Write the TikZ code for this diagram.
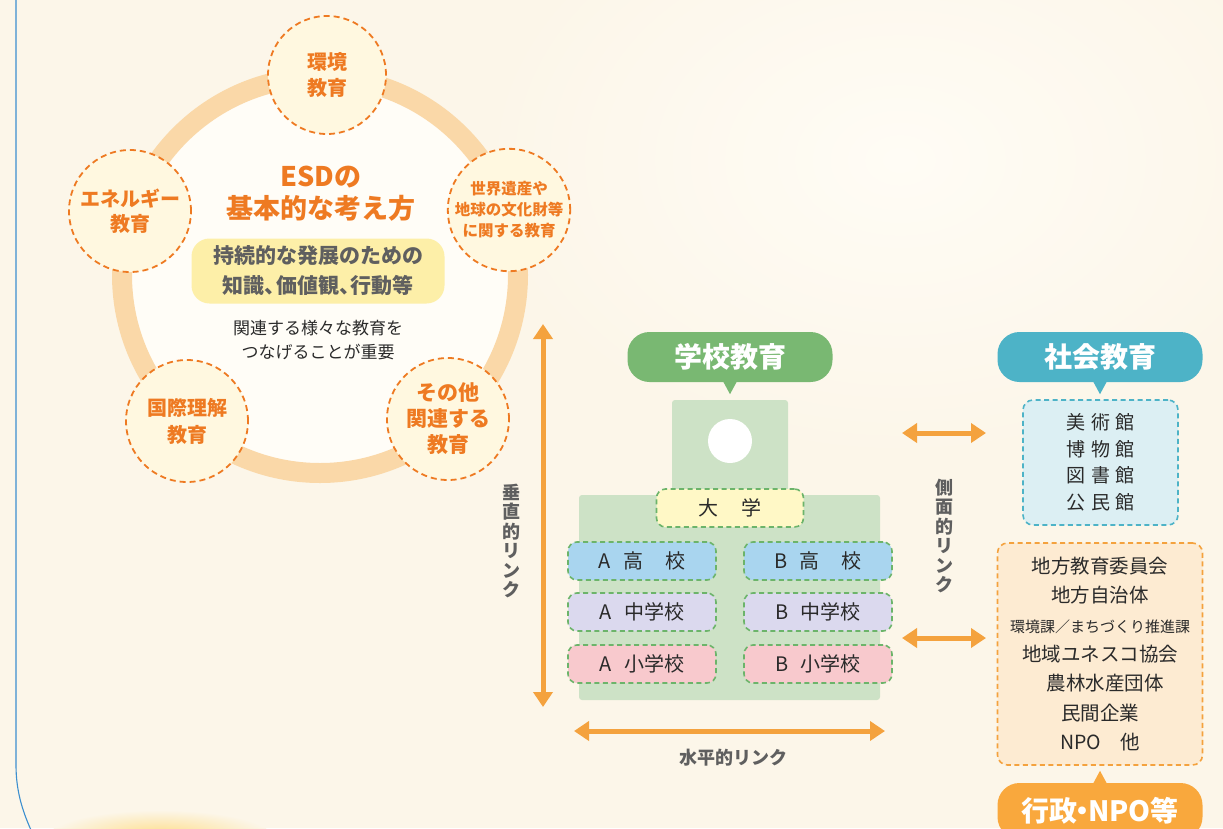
\documentclass[tikz,border=0pt]{standalone}
\usepackage{fontspec}
\setmainfont{Noto Sans CJK JP}
\usetikzlibrary{arrows.meta}
\definecolor{bg}{HTML}{FCF6E9}
\definecolor{innerc}{HTML}{FFFDF7}
\definecolor{ringc}{HTML}{FAD8A8}
\definecolor{orangeT}{HTML}{EE7A22}
\definecolor{circFill}{HTML}{FFF8E0}
\definecolor{arrowO}{HTML}{F4A23E}
\definecolor{greenC}{HTML}{79B872}
\definecolor{bldg}{HTML}{CDE2C6}
\definecolor{dashG}{HTML}{6CB46A}
\definecolor{univ}{HTML}{FFF8C6}
\definecolor{hs}{HTML}{A9D5EF}
\definecolor{jhs}{HTML}{DBD9EE}
\definecolor{es}{HTML}{F8C9CD}
\definecolor{tealC}{HTML}{4DB3C7}
\definecolor{museum}{HTML}{DCEFF3}
\definecolor{orgF}{HTML}{FDEBD2}
\definecolor{callO}{HTML}{F9A83D}
\definecolor{yel}{HTML}{FDEFA8}
\definecolor{grayT}{HTML}{5F5F5F}
\definecolor{darkT}{HTML}{2A2A2A}
\definecolor{blueL}{HTML}{3C8FCF}
\definecolor{glowc}{HTML}{FFFCF5}
\newcommand\fsz[2]{\fontsize{#1}{#2}\selectfont}
\tikzset{
  topic/.style={circle, minimum size=118pt, inner sep=0pt, draw=orangeT, line width=1.8pt,
    dash pattern=on 6pt off 4pt, fill=circFill, text=orangeT, align=center,
    font=\bfseries\fsz{20}{26}},
  bigarrow/.style={arrowO, line width=5pt,
    {Triangle[width=19pt,length=15pt]}-{Triangle[width=19pt,length=15pt]}},
  vlabel/.style={text=grayT, align=center, font=\bfseries\fsz{18}{19.5}},
  callout/.style={rectangle, rounded corners=22pt, minimum width=205pt, minimum height=50pt,
    text=white, font=\bfseries\fsz{28}{28}},
  sbox/.style={rectangle, rounded corners=9pt, draw=dashG, line width=1.6pt,
    dash pattern=on 5pt off 3.5pt, minimum width=148pt, minimum height=38pt,
    text=darkT, font=\fsz{20}{20}},
  infobox/.style={rectangle, rounded corners=10pt, line width=1.6pt,
    dash pattern=on 5pt off 3.5pt, text=darkT, align=center}
}
\begin{document}
\begin{tikzpicture}[x=1pt,y=-1pt]
\useasboundingbox (0,0) rectangle (1223,828);
\clip (0,0) rectangle (1223,828);
\fill[bg] (0,0) rectangle (1223,828);
% soft light glows
\shade[inner color=glowc, outer color=bg] (900,160) ellipse[x radius=420, y radius=300];
\shade[inner color=yellow!45!orange!40!bg, outer color=bg] (160,835) ellipse[x radius=110, y radius=25];
% left blue border line
\draw[blueL, line width=1.1pt] (16,-2) -- (16,765) .. controls (16,790) and (22,810) .. (31,830);

% ring
\fill[innerc] (320,275) circle[radius=192];
\draw[ringc, line width=20pt] (320,275) circle[radius=198];

% topic circles
\node[topic] (env) at (327,75) {環境\\教育};
\node[topic, minimum size=122pt, font=\bfseries\fsz{15.5}{21}] (heri) at (509,210) {世界遺産や\\地球の文化財等\\に関する教育};
\node[topic, minimum size=122pt, font=\bfseries\fsz{20}{25}] (ener) at (130,211) {エネルギー\\教育};
\node[topic, minimum size=122pt, font=\bfseries\fsz{20}{27}] (intl) at (187,421) {国際理解\\教育};
\node[topic, minimum size=122pt, font=\bfseries\fsz{21}{26}] (other) at (448,419) {その他\\関連する\\教育};

% center texts
\node[text=orangeT, align=center, font=\bfseries\fsz{27}{32}] (title) at (321,194) {ESDの\\基本的な考え方};
\node[rectangle, rounded corners=18pt, fill=yel, minimum width=253pt, minimum height=65pt,
  text=grayT, align=center, font=\bfseries\fsz{21}{30}] (core) at (318,271) {持続的な発展のための\\知識、{\hspace{-0.45em}}価値観、{\hspace{-0.45em}}行動等};
\node[text=darkT, align=center, font=\fsz{17}{24}] (sub) at (318,340) {関連する様々な教育を\\つなげることが重要};

% vertical link
\coordinate (vtop) at (543,324);
\coordinate (vbot) at (543,707);
\draw[bigarrow] (vtop) -- (vbot);
\node[vlabel] (vlab) at (511,541) {垂\\直\\的\\リ\\ン\\ク};

% school education callout
\node[callout, fill=greenC] (school) at (730,357) {学校教育};
\fill[greenC] ([xshift=-7pt,yshift=1pt]school.south) -- ([xshift=7pt,yshift=1pt]school.south) -- ([yshift=-12pt]school.south) -- cycle;

% building
\fill[bldg, rounded corners=3pt] (672,400) rectangle (788,505);
\fill[bldg, rounded corners=3pt] (579,495) rectangle (880,700);
\fill[white] (730,441) circle[radius=22];

\node[sbox, fill=univ, minimum width=147pt] (univ) at (730,508) {大\hspace{1.2em}学};
\node[sbox, fill=hs] (ahs) at (642,561) {A\hspace{0.6em}高\hspace{1.1em}校};
\node[sbox, fill=hs] (bhs) at (818,561) {B\hspace{0.6em}高\hspace{1.1em}校};
\node[sbox, fill=jhs] (ajhs) at (642,612) {A\hspace{0.6em}中学校};
\node[sbox, fill=jhs] (bjhs) at (818,612) {B\hspace{0.6em}中学校};
\node[sbox, fill=es] (aes) at (642,664) {A\hspace{0.6em}小学校};
\node[sbox, fill=es] (bes) at (818,664) {B\hspace{0.6em}小学校};

% horizontal link
\coordinate (hl) at (574,731);
\coordinate (hr) at (885,731);
\draw[bigarrow] (hl) -- (hr);
\node[text=grayT, font=\bfseries\fsz{18}{18}] (hlab) at (733,758) {水平的リンク};

% side links
\coordinate (s1l) at (902,433);
\coordinate (s1r) at (986,433);
\coordinate (s2l) at (902,638);
\coordinate (s2r) at (986,638);
\draw[bigarrow] (s1l) -- (s1r);
\draw[bigarrow] (s2l) -- (s2r);
\node[vlabel] (slab) at (944,536) {側\\面\\的\\リ\\ン\\ク};

% social education callout
\node[callout, fill=tealC] (social) at (1100,357) {社会教育};
\fill[tealC] ([xshift=-7pt,yshift=1pt]social.south) -- ([xshift=7pt,yshift=1pt]social.south) -- ([yshift=-12pt]social.south) -- cycle;

\node[infobox, draw=tealC, fill=museum, minimum width=155pt, minimum height=125pt,
  font=\fsz{19}{26.5}] (mus) at (1100.5,462.5)
  {美\hspace{0.3em}術\hspace{0.3em}館\\博\hspace{0.3em}物\hspace{0.3em}館\\図\hspace{0.3em}書\hspace{0.3em}館\\公\hspace{0.3em}民\hspace{0.3em}館};

\node[infobox, draw=arrowO, fill=orgF, minimum width=205pt, minimum height=222pt,
  font=\fsz{19.5}{29.3}] (org) at (1100,654)
  {地方教育委員会\\地方自治体\\{\fsz{15}{29.3}環境課／まちづくり推進課}\\地域ユネスコ協会\hspace*{14pt}\\\hspace*{10pt}農林水産団体\\民間企業\\NPO\hspace{1em}他};

% administration callout
\node[callout, fill=callO, minimum height=56pt] (admin) at (1100,811) {行政{\hspace{-0.3em}}・{\hspace{-0.3em}}NPO等};
\fill[callO] ([xshift=-7pt,yshift=-1pt]admin.north) -- ([xshift=7pt,yshift=-1pt]admin.north) -- ([yshift=12pt]admin.north) -- cycle;
\end{tikzpicture}
\end{document}
